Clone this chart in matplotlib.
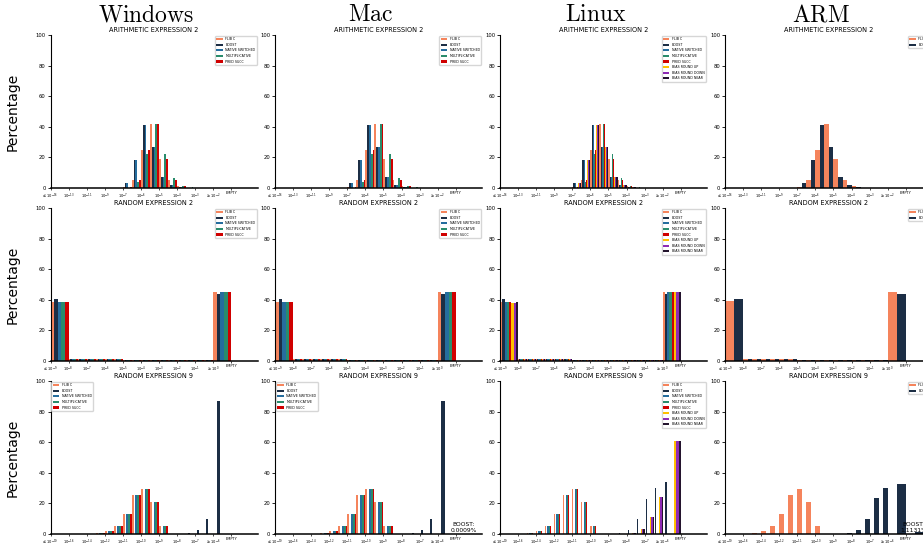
import matplotlib.pyplot as plt
import numpy as np

# series names / colours (shared by all panels)
series_names = ["FLIB C", "BOOST", "NATIVE SWITCHED", "MULTIPLICATIVE", "PRED SUCC",
                "BIAS ROUND UP", "BIAS ROUND DOWN", "BIAS ROUND NEAR"]
series_colors = ["#F5845C", "#1C2E45", "#256D9E", "#2A8C6C", "#D00000",
                 "#FFC000", "#8E2BB5", "#24142E"]

platforms = ["Windows", "Mac", "Linux", "ARM"]
row_titles = ["ARITHMETIC EXPRESSION 2", "RANDOM EXPRESSION 2", "RANDOM EXPRESSION 9"]

arith_labels = [r"$\leq10^{-16}$", r"$10^{-13}$", r"$10^{-11}$", r"$10^{-9}$", r"$10^{-7}$",
                r"$10^{-6}$", r"$10^{-5}$", r"$10^{-4}$", r"$10^{-3}$", r"$\geq10^{-2}$", "EMPTY"]
rand2_labels = [r"$\leq10^{-9}$", r"$10^{-8}$", r"$10^{-7}$", r"$10^{-6}$", r"$10^{-5}$",
                r"$10^{-4}$", r"$10^{-3}$", r"$10^{-2}$", r"$10^{-1}$", r"$\geq10^{0}$", "EMPTY"]
rand9_labels = [r"$\leq10^{-19}$", r"$10^{-16}$", r"$10^{-14}$", r"$10^{-12}$", r"$10^{-11}$",
                r"$10^{-10}$", r"$10^{-9}$", r"$10^{-8}$", r"$10^{-7}$", r"$\geq10^{-6}$", "EMPTY"]

# percentages per bin: [<=, 16 middle bins, >=, EMPTY]
arith_flib   = [0, 0, 0, 0, 0, 0, 0, 0.7, 5.5, 25, 42, 19, 5.5, 1.3, 0, 0, 0, 0, 0]
arith_boost  = [0, 0, 0, 0, 0, 0, 0, 3.5, 18, 41, 27, 7.5, 2, 0.8, 0, 0, 0, 0, 0]
arith_native = [0, 0, 0, 0, 0, 0, 0, 3.5, 18, 41, 27, 7.5, 2, 0.8, 0, 0, 0, 0, 0]
arith_mult   = [0, 0, 0, 0, 0, 0, 0, 0.3, 4, 22, 42, 22.5, 6.5, 1.3, 0.4, 0, 0, 0, 0]
arith_pred   = [0, 0, 0, 0, 0, 0, 0, 0.7, 5.5, 25, 42, 19, 5.5, 1.3, 0, 0, 0, 0, 0]
arith_up     = [0, 0, 0, 0, 0, 0, 0, 3.5, 18, 41, 27, 7.5, 2, 0.8, 0, 0, 0, 0, 0]
arith_down   = [0, 0, 0, 0, 0, 0, 0, 3.5, 18, 41, 27, 7.5, 2, 0.8, 0, 0, 0, 0, 0]
arith_near   = [0, 0, 0, 0, 0, 0, 0, 3.5, 18, 41, 27, 7.5, 2, 0.8, 0, 0, 0, 0, 0]

rand2_flib   = [38.5, 1.3, 1.3, 1.3, 1.3, 1.3, 1.3, 0.7, 0.7, 0.7, 0.7, 0.7, 0.7, 0.7, 0.7, 0.7, 0.7, 45, 0]
rand2_boost  = [40.5, 1.3, 1.3, 1.3, 1.3, 1.3, 1.3, 0.7, 0.7, 0.7, 0.7, 0.7, 0.7, 0.7, 0.7, 0.7, 0.7, 43.5, 0]
rand2_native = [38.5, 1.3, 1.3, 1.3, 1.3, 1.3, 1.3, 0.7, 0.7, 0.7, 0.7, 0.7, 0.7, 0.7, 0.7, 0.7, 0.7, 45, 0]
rand2_mult   = [38.5, 1.3, 1.3, 1.3, 1.3, 1.3, 1.3, 0.7, 0.7, 0.7, 0.7, 0.7, 0.7, 0.7, 0.7, 0.7, 0.7, 45, 0]
rand2_pred   = [38.5, 1.3, 1.3, 1.3, 1.3, 1.3, 1.3, 0.7, 0.7, 0.7, 0.7, 0.7, 0.7, 0.7, 0.7, 0.7, 0.7, 45, 0]
rand2_up     = [38, 1.3, 1.3, 1.3, 1.3, 1.3, 1.3, 0.7, 0.7, 0.7, 0.7, 0.7, 0.7, 0.7, 0.7, 0.7, 0.7, 45, 0]
rand2_down   = [38, 1.3, 1.3, 1.3, 1.3, 1.3, 1.3, 0.7, 0.7, 0.7, 0.7, 0.7, 0.7, 0.7, 0.7, 0.7, 0.7, 45, 0]
rand2_near   = [38.5, 1.3, 1.3, 1.3, 1.3, 1.3, 1.3, 0.7, 0.7, 0.7, 0.7, 0.7, 0.7, 0.7, 0.7, 0.7, 0.7, 45, 0]
arm_rand2_flib  = [39, 1.3, 1.3, 1.3, 1.3, 1.3, 1.3, 0.7, 0.7, 0.7, 0.7, 0.7, 0.7, 0.7, 0.7, 0.7, 0.7, 45, 0]
arm_rand2_boost = [40.5, 1.3, 1.3, 1.3, 1.3, 1.3, 1.3, 0.7, 0.7, 0.7, 0.7, 0.7, 0.7, 0.7, 0.7, 0.7, 0.7, 44, 0]

# random expression 9, windows / mac
rand9_flib  = [0.1, 0.1, 0.1, 0.1, 0.5, 2, 5, 13, 25.5, 29.5, 21, 5, 0.2, 0, 0, 0, 0, 0, 0]
rand9_boost = [0, 0, 0, 0, 0, 0, 0, 0, 0, 0, 0, 0, 0, 0.2, 0.7, 2.5, 10, 87, 0.0009]
# random expression 9, linux / arm
lin9_flib   = [0.1, 0.1, 0.5, 2, 5, 13, 25.5, 29.5, 21, 5, 0.2, 0, 0, 0, 0, 0, 0, 0, 0]
lin9_boost  = [0, 0, 0, 0, 0, 0, 0, 0, 0, 0, 0, 0, 0.8, 2.5, 10, 23, 30, 34, 0]
lin9_bias   = [0, 0, 0, 0, 0, 0, 0, 0, 0, 0, 0, 0, 0, 0.5, 3, 11, 24.5, 61, 0]
arm9_boost  = [0, 0, 0, 0, 0, 0, 0, 0, 0, 0, 0, 0, 0.7, 2.5, 10, 23.5, 30, 33, 1.1131]

panels = [
    [[arith_flib, arith_boost, arith_native, arith_mult, arith_pred],
     [arith_flib, arith_boost, arith_native, arith_mult, arith_pred],
     [arith_flib, arith_boost, arith_native, arith_mult, arith_pred, arith_up, arith_down, arith_near],
     [arith_flib, arith_boost]],
    [[rand2_flib, rand2_boost, rand2_native, rand2_mult, rand2_pred],
     [rand2_flib, rand2_boost, rand2_native, rand2_mult, rand2_pred],
     [rand2_flib, rand2_boost, rand2_native, rand2_mult, rand2_pred, rand2_up, rand2_down, rand2_near],
     [arm_rand2_flib, arm_rand2_boost]],
    [[rand9_flib, rand9_boost, rand9_flib, rand9_flib, rand9_flib],
     [rand9_flib, rand9_boost, rand9_flib, rand9_flib, rand9_flib],
     [lin9_flib, lin9_boost, lin9_flib, lin9_flib, lin9_flib, lin9_bias, lin9_bias, lin9_bias],
     [lin9_flib, arm9_boost]],
]
row_labels = [arith_labels, rand2_labels, rand9_labels]

# bin layout: wide "<=" bin, 16 half-width bins, wide ">=" and EMPTY bins
starts = np.r_[0, 1 + 0.5 * np.arange(16), 9, 10]
spans = np.r_[1, np.full(16, 0.5), 1, 1]

FW, FH = 923, 548
fig = plt.figure(figsize=(FW / 100, FH / 100), dpi=100)
lefts = [50.5, 275, 500, 725]
tops = [35, 208, 381]
AW, AH = 207, 153

for r in range(3):
    for c in range(4):
        ax = fig.add_axes([lefts[c] / FW, 1 - (tops[r] + AH) / FH, AW / FW, AH / FH])
        series = panels[r][c]
        n = len(series)
        for i, vals in enumerate(series):
            w = spans / n
            ax.bar(starts + i * w, vals, width=w, align='edge', color=series_colors[i],
                   label=series_names[i], linewidth=0)
        ax.set_xlim(0, 11.45)
        ax.set_ylim(0, 100)
        ax.set_xticks(range(11))
        ax.set_xticklabels(row_labels[r], fontsize=2.6)
        ax.set_yticks([0, 20, 40, 60, 80, 100])
        ax.tick_params(axis='y', labelsize=3.8, length=2, width=0.6, pad=1.5)
        ax.tick_params(axis='x', length=1.5, width=0.5, pad=1)
        ax.spines['top'].set_visible(False)
        ax.spines['right'].set_visible(False)
        ax.spines['left'].set_linewidth(0.8)
        ax.spines['bottom'].set_linewidth(1.1)
        ax.set_title(row_titles[r], fontsize=4.7, pad=2)
        loc = 'upper left' if (r == 2 and c < 2) else 'upper right'
        ax.legend(loc=loc, fontsize=2.3, borderaxespad=0.3)
        if c == 0:
            ax.set_ylabel("Percentage", fontsize=10)
            ax.yaxis.set_label_coords(-0.15, 0.5)
        if r == 2 and c in (1, 3):
            ax.text(10.45, 0.5, "BOOST:\n%.4f%%" % series[1][-1], ha='center', va='bottom',
                    fontsize=4.3)

for c, name in enumerate(platforms):
    fig.text((lefts[c] + AW / 2 - 8) / FW, 1 - 14 / FH, r"$\mathrm{%s}$" % name,
             math_fontfamily='cm', fontsize=17, ha='center', va='center')

plt.savefig('out.png', dpi=100)
